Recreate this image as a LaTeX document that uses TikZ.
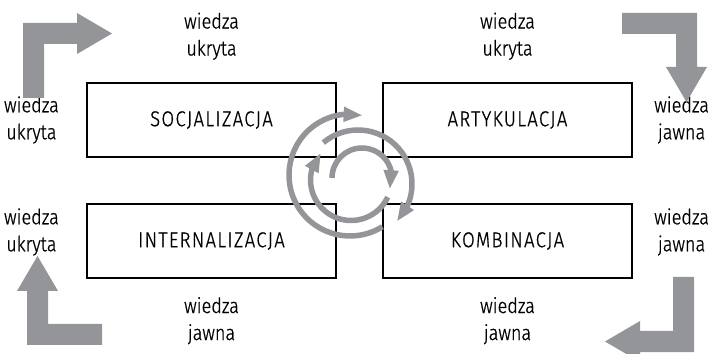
\documentclass[tikz,border=0pt]{standalone}
\usepackage{fontspec}
\setmainfont{Fira Sans}[UprightFont=* Light, FakeStretch=0.86, FakeBold=0.8]
\newfontfamily\phasefont{Fira Sans}[UprightFont=* Light, FakeStretch=0.86, FakeBold=0.8, LetterSpace=6]
\usetikzlibrary{positioning,arrows.meta,bending}
\definecolor{arrowgray}{RGB}{147,149,152}
\tikzset{
phase/.style={rectangle, draw=black, line width=2.2pt, minimum width=249pt, minimum height=74pt, outer sep=0pt, text centered, font=\fontsize{21.5}{24}\phasefont},
know/.style={align=center, inner sep=0pt, font=\fontsize{21}{27}\selectfont},
swirl/.style={draw=arrowgray, line width=5.5pt, -{Triangle[length=19pt, width=14pt]}},
bent/.style={fill=arrowgray, draw=none},
}
% L-shaped arrow: outer corner at #1, turned by #2
\newcommand{\bentarrow}[2]{%
\fill[bent, shift={#1}, rotate=#2] (0,0) -- (54,0) -- (54,10) -- (89,-10.5) -- (54,-31) -- (54,-21) -- (21,-21) -- (21,-75) -- (0,-75) -- cycle;}

\begin{document}
\begin{tikzpicture}
[x=1pt, y=1pt, node distance=47pt]
\useasboundingbox (0,0) rectangle (714,353);

% the four phases
\node[phase] (soc) at (211.5,233) {SOCJALIZACJA};
\node[phase, right=of soc] (art) {ARTYKULACJA};
\node[phase, below=of soc] (int) {INTERNALIZACJA};
\node[phase, below=of art] (komb) {KOMBINACJA};

% kinds of knowledge round the boxes
\node[know, above=23pt of soc] (socin) {wiedza\\ukryta};
\node[know, above=23pt of art] (artin) {wiedza\\ukryta};
\node[know, left=28pt of soc] (socout) {wiedza\\ukryta};
\node[know, right=22pt of art] (artout) {wiedza\\jawna};
\node[know, right=22pt of komb, yshift=9pt] (kombin) {wiedza\\jawna};
\node[know, left=28pt of int, yshift=9pt] (intout) {wiedza\\ukryta};
\node[know, below=19pt of komb] (kombout) {wiedza\\jawna};
\node[know, below=19pt of int] (intin) {wiedza\\jawna};

% corner arrows
\bentarrow{(23,330)}{0}
\bentarrow{(697,340)}{-90}
\bentarrow{(694,1)}{180}
\bentarrow{(27,8)}{90}

% spiral in the middle
\draw[swirl] (362,175) ++(180:30) arc[start angle=180, end angle=-22, radius=30];
\draw[swirl] (351,173) ++(-25:40.5) arc[start angle=-25, end angle=-222, radius=40.5];
\draw[swirl] (358,169) ++(130:54) arc[start angle=130, end angle=-44, radius=54];
\draw[swirl] (350,178) ++(-58:61) arc[start angle=-58, end angle=-282, radius=61];

\end{tikzpicture}
\end{document}
